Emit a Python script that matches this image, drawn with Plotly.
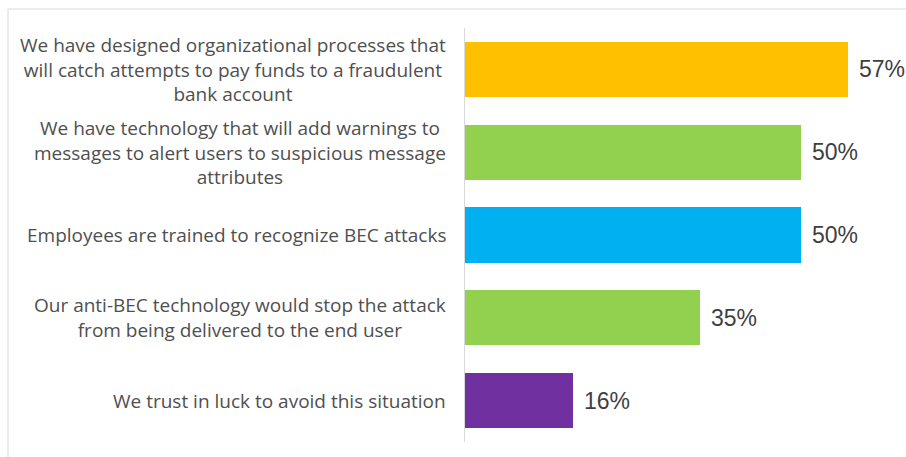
import plotly.graph_objects as go

# Survey responses: how organisations expect to stop a BEC attack
categories = [
    "We have designed organizational processes that<br>will catch attempts to pay funds to a fraudulent<br>bank account",
    "We have technology that will add warnings to<br>messages to alert users to suspicious message<br>attributes",
    "Employees are trained to recognize BEC attacks",
    "Our anti-BEC technology would stop the attack<br>from being delivered to the end user",
    "We trust in luck to avoid this situation",
]
values = [57, 50, 50, 35, 16]
colors = ["#FFC000", "#92D050", "#00B0F0", "#92D050", "#7030A0"]

W, H = 906, 457
ML, MR, MT, MB = 465, 0, 28, 15
plot_w = W - ML - MR
px_per_pct = 6.72

fig = go.Figure(
    go.Bar(
        x=values,
        y=list(range(len(categories))),
        orientation="h",
        marker=dict(color=colors, line=dict(width=0)),
        width=0.667,
        hoverinfo="skip",
    )
)

annotations = []
# value labels just past each bar end
for i, v in enumerate(values):
    annotations.append(dict(
        x=v, y=i, xref="x", yref="y", text=f"{v}%", showarrow=False,
        xanchor="left", yanchor="middle", xshift=9,
        font=dict(family="Liberation Sans, Arial, sans-serif", size=23, color="#3f3f3f"),
    ))
# category labels, lines centred within each block
for i, c in enumerate(categories):
    annotations.append(dict(
        x=0, y=i, xref="paper", yref="y", text=c, showarrow=False,
        xanchor="right", yanchor="middle", align="center", xshift=-17,
        font=dict(family="Open Sans, sans-serif", size=19, color="#4f4f4f"),
    ))

# light frame along the top and left edges
x_left = (8 - ML) / plot_w
y_top = 1 + (MT - 9) / (H - MT - MB)
y_bot = -(MB + 5) / (H - MT - MB)
shapes = [
    dict(type="line", xref="paper", yref="paper", x0=x_left, x1=1.1, y0=y_top, y1=y_top,
         line=dict(color="#e6e6e6", width=1.5)),
    dict(type="line", xref="paper", yref="paper", x0=x_left, x1=x_left, y0=y_top, y1=y_bot,
         line=dict(color="#e6e6e6", width=1.5)),
]

fig.update_layout(
    width=W, height=H,
    margin=dict(l=ML, r=MR, t=MT, b=MB),
    paper_bgcolor="white", plot_bgcolor="white",
    showlegend=False,
    bargap=0,
    annotations=annotations,
    shapes=shapes,
    xaxis=dict(range=[0, plot_w / px_per_pct], visible=False, fixedrange=True),
    yaxis=dict(
        range=[len(categories) - 0.5, -0.5],
        showticklabels=False, showgrid=False, zeroline=False,
        showline=True, linecolor="#d9d9d9", linewidth=1,
        fixedrange=True,
    ),
)

fig.write_html("out.html", config={"displayModeBar": False})
